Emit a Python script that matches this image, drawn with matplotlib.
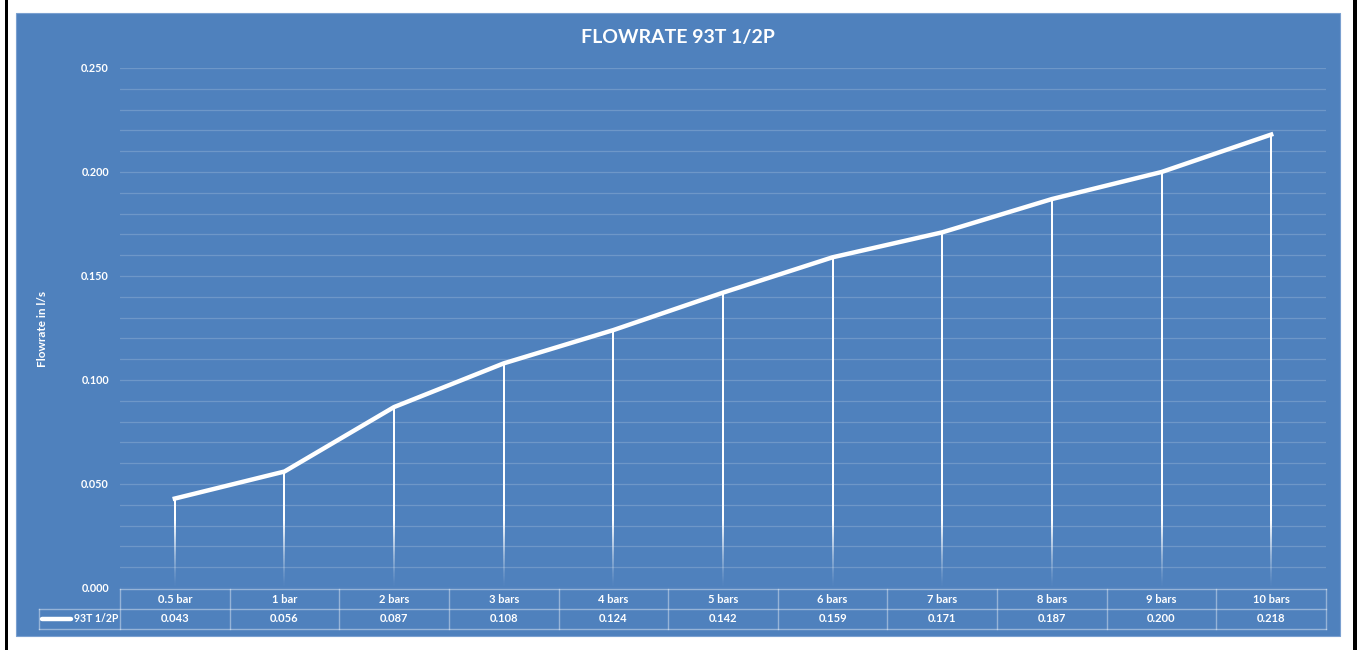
import matplotlib
matplotlib.use("Agg")
import matplotlib.pyplot as plt
import numpy as np
from matplotlib.collections import LineCollection
from matplotlib.patches import Rectangle
import matplotlib.transforms as mtransforms

plt.rcParams['font.family'] = ['Lato', 'DejaVu Sans']

# data
pressures = ["0.5 bar", "1 bar", "2 bars", "3 bars", "4 bars", "5 bars",
             "6 bars", "7 bars", "8 bars", "9 bars", "10 bars"]
flow = [0.043, 0.056, 0.087, 0.108, 0.124, 0.142, 0.159, 0.171, 0.187, 0.200, 0.218]
series_name = "93T 1/2P"
yticks = [0.0, 0.05, 0.10, 0.15, 0.20, 0.25]

W, H = 1357, 650
blue = '#4F81BD'

fig = plt.figure(figsize=(W / 100, H / 100), dpi=100)
fig.patch.set_facecolor('white')

# chart area + black frame edges (behind the axes)
fig.patches.append(Rectangle((16 / W, 1 - 636 / H), (1340 - 16) / W, (636 - 13) / H,
                             transform=fig.transFigure, facecolor=blue,
                             edgecolor='#7aa0d0', lw=0.8, zorder=-5))
fig.patches.append(Rectangle((5 / W, 0), 2.5 / W, 1, transform=fig.transFigure,
                             facecolor='black', edgecolor='none', zorder=-5))
fig.patches.append(Rectangle((1353 / W, 0), 4 / W, 1, transform=fig.transFigure,
                             facecolor='black', edgecolor='none', zorder=-5))

ax = fig.add_axes([120 / W, 62 / H, 1206 / W, 520 / H])
ax.set_facecolor('none')
ax.set_xlim(-0.5, len(flow) - 0.5)
ax.set_ylim(0, 0.25)
for s in ax.spines.values():
    s.set_visible(False)

ax.set_yticks(yticks)
ax.set_yticklabels(['%.3f' % v for v in yticks])
ax.set_yticks(np.arange(0, 0.251, 0.01), minor=True)
ax.tick_params(axis='y', which='both', length=0, pad=8, labelcolor='white',
               labelsize=7.8)
for lab in ax.get_yticklabels():
    lab.set_fontweight('bold')
ax.set_xticks([])
ax.grid(axis='y', which='both', color='white', alpha=0.18, lw=0.9)
ax.set_axisbelow(True)

x = np.arange(len(flow))

# drop lines fading towards the bottom
fade = 0.032
for xi, yi in zip(x, flow):
    ys = np.linspace(0, fade, 60)
    segs = [[(xi, ys[i]), (xi, ys[i + 1])] for i in range(len(ys) - 1)]
    cols = [(1, 1, 1, (ys[i] / fade) ** 1.3) for i in range(len(ys) - 1)]
    segs.append([(xi, fade), (xi, yi)])
    cols.append((1, 1, 1, 1))
    ax.add_collection(LineCollection(segs, colors=cols, lw=1.3, zorder=3,
                                     capstyle='butt', antialiased=False))

ax.plot(x, flow, color='white', lw=3.2, solid_joinstyle='miter', zorder=4)

# data table below the plot
tr = mtransforms.blended_transform_factory(ax.transData, ax.transAxes)
col_w = 1206 / len(flow)
x_leg = -0.5 + (39 - 120) / col_w
y_top, y_mid, y_bot = -0.002, -21 / 520, -41 / 520
tcol = (1, 1, 1, 0.4)
xl, xr = -0.5, len(flow) - 0.5
ax.plot([xl, xr], [y_top, y_top], color=tcol, lw=1, transform=tr, clip_on=False)
ax.plot([x_leg, xr], [y_mid, y_mid], color=tcol, lw=1, transform=tr, clip_on=False)
ax.plot([x_leg, xr], [y_bot, y_bot], color=tcol, lw=1, transform=tr, clip_on=False)
ax.plot([x_leg, x_leg], [y_mid, y_bot], color=tcol, lw=1, transform=tr, clip_on=False)
for k in range(len(flow) + 1):
    ax.plot([xl + k, xl + k], [y_top, y_bot], color=tcol, lw=1, transform=tr,
            clip_on=False)

for xi, lab, v in zip(x, pressures, flow):
    ax.text(xi, (y_top + y_mid) / 2, lab, transform=tr, ha='center', va='center',
            color='white', fontsize=8, fontweight='bold')
    ax.text(xi, (y_mid + y_bot) / 2, '%.3f' % v, transform=tr, ha='center',
            va='center', color='white', fontsize=8, fontweight='bold')

ky = (y_mid + y_bot) / 2
ax.plot([-0.5 + (42 - 120) / col_w, -0.5 + (71 - 120) / col_w], [ky, ky],
        color='white', lw=3.2, transform=tr, clip_on=False, solid_capstyle='round')
ax.text(-0.5 + (118 - 120) / col_w, ky, series_name, transform=tr, ha='right',
        va='center', color='white', fontsize=7.6, fontweight='bold')

fig.text(678 / W, 1 - 38 / H, "FLOWRATE 93T 1/2P", ha='center', va='center',
         color='white', fontsize=14, fontweight='bold')
fig.text(43 / W, 1 - 329 / H, "Flowrate in l/s", rotation=90, ha='center',
         va='center', color='white', fontsize=8.5, fontweight='bold')

fig.savefig("out.png", dpi=100, facecolor=fig.get_facecolor())
